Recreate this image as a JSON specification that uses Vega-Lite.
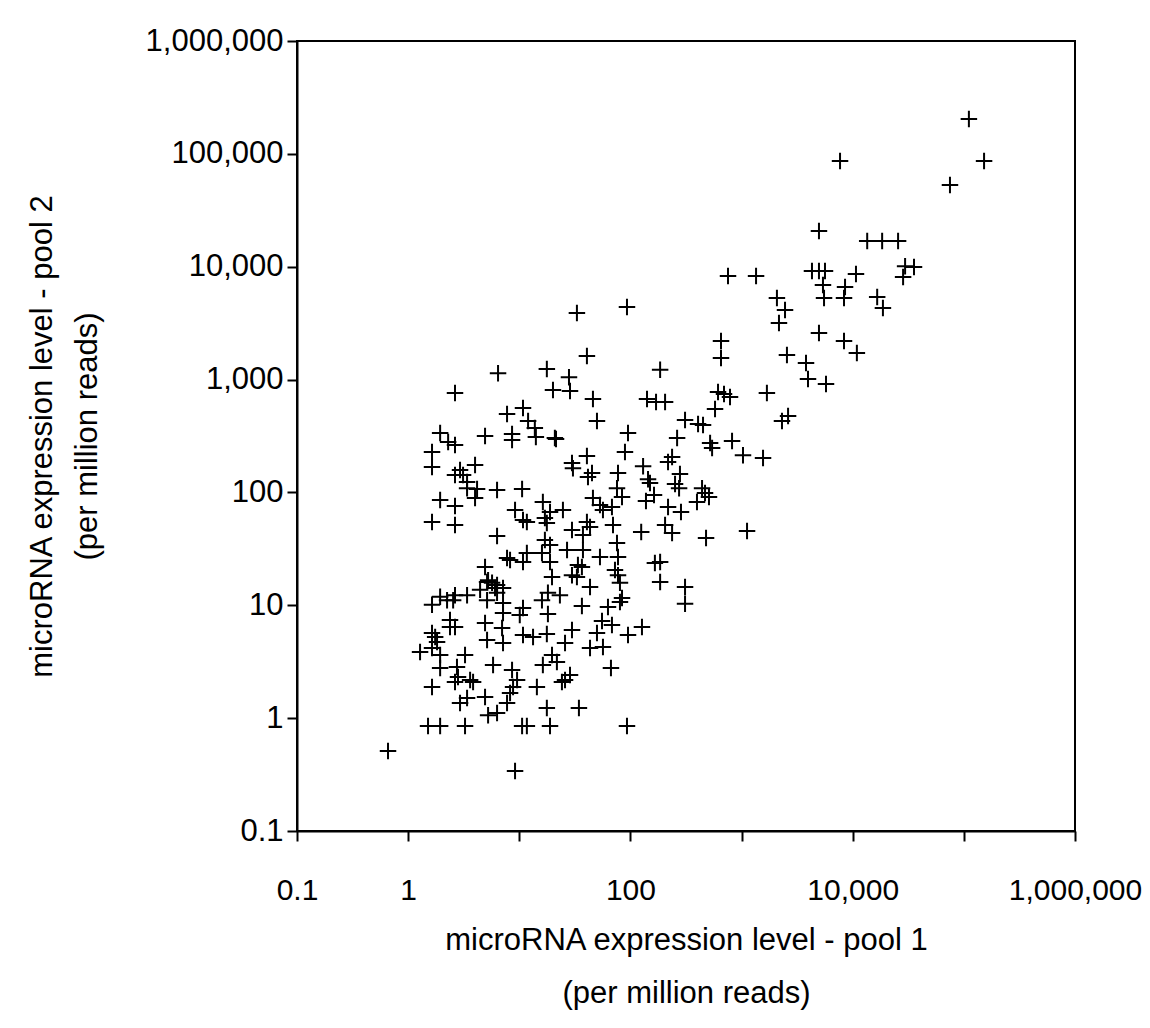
{
"$schema":"https://vega.github.io/schema/vega-lite/v6.json",
"width":778,"height":790,
"autosize":{"type":"none"},
"padding":{"left":297,"top":41,"right":75,"bottom":197},
"config":{"view":{"stroke":"black","strokeWidth":2},"font":"Liberation Sans"},
"data":{"values":[
{"pool1":111000,"pool2":204000},{"pool1":152000,"pool2":86400},{"pool1":75000,"pool2":53000},{"pool1":7690,"pool2":86400},
{"pool1":13500,"pool2":16900},{"pool1":18400,"pool2":16900},{"pool1":25600,"pool2":16900},{"pool1":29600,"pool2":10100},
{"pool1":35600,"pool2":9950},{"pool1":28400,"pool2":8110},{"pool1":10700,"pool2":8620},{"pool1":4970,"pool2":20700},
{"pool1":755,"pool2":8280},{"pool1":1350,"pool2":8280},{"pool1":4300,"pool2":9160},{"pool1":4970,"pool2":9160},
{"pool1":5630,"pool2":9160},{"pool1":5400,"pool2":6890},{"pool1":8530,"pool2":6610},{"pool1":2080,"pool2":5280},
{"pool1":5520,"pool2":5280},{"pool1":8350,"pool2":5280},{"pool1":16600,"pool2":5390},{"pool1":18700,"pool2":4310},
{"pool1":2460,"pool2":4140},{"pool1":2170,"pool2":3170},{"pool1":4970,"pool2":2590},{"pool1":8350,"pool2":2200},
{"pool1":10900,"pool2":1720},{"pool1":2560,"pool2":1650},{"pool1":3800,"pool2":1400},{"pool1":3960,"pool2":1010},
{"pool1":5750,"pool2":913},{"pool1":1690,"pool2":760},{"pool1":653,"pool2":2200},{"pool1":653,"pool2":1550},
{"pool1":695,"pool2":745},{"pool1":787,"pool2":700},{"pool1":614,"pool2":776},{"pool1":2310,"pool2":429},
{"pool1":2620,"pool2":475},{"pool1":821,"pool2":285},{"pool1":33.0,"pool2":3890},{"pool1":93.1,"pool2":4400},
{"pool1":40.6,"pool2":1620},{"pool1":6.44,"pool2":1140},{"pool1":17.7,"pool2":1240},{"pool1":28.0,"pool2":1050},
{"pool1":20.1,"pool2":808},{"pool1":28.6,"pool2":791},{"pool1":185,"pool2":1220},{"pool1":46.0,"pool2":672},
{"pool1":141,"pool2":672},{"pool1":170,"pool2":632},{"pool1":205,"pool2":632},{"pool1":577,"pool2":548},
{"pool1":10.8,"pool2":560},{"pool1":7.76,"pool2":495},{"pool1":12.0,"pool2":429},{"pool1":13.8,"pool2":372},
{"pool1":14.1,"pool2":310},{"pool1":8.61,"pool2":329},{"pool1":8.61,"pool2":291},{"pool1":50.0,"pool2":429},
{"pool1":310,"pool2":438},{"pool1":406,"pool2":404},{"pool1":450,"pool2":396},{"pool1":4.92,"pool2":316},
{"pool1":20.9,"pool2":303},{"pool1":95.1,"pool2":336},{"pool1":263,"pool2":303},{"pool1":521,"pool2":274},
{"pool1":543,"pool2":247},{"pool1":237,"pool2":206},{"pool1":218,"pool2":186},{"pool1":1030,"pool2":214},
{"pool1":1560,"pool2":202},{"pool1":130,"pool2":171},{"pool1":279,"pool2":146},{"pool1":144,"pool2":131},
{"pool1":150,"pool2":121},{"pool1":252,"pool2":119},{"pool1":274,"pool2":109},{"pool1":441,"pool2":109},
{"pool1":469,"pool2":98.9},{"pool1":509,"pool2":91.2},{"pool1":397,"pool2":82.3},{"pool1":163,"pool2":94.8},
{"pool1":138,"pool2":84.0},{"pool1":218,"pool2":74.3},{"pool1":285,"pool2":67.1},{"pool1":205,"pool2":51.4},
{"pool1":237,"pool2":43.7},{"pool1":125,"pool2":44.6},{"pool1":1120,"pool2":45.5},{"pool1":479,"pool2":39.5},
{"pool1":21.4,"pool2":297},{"pool1":89.3,"pool2":228},{"pool1":40.6,"pool2":210},{"pool1":29.8,"pool2":182},
{"pool1":30.4,"pool2":164},{"pool1":45.1,"pool2":149},{"pool1":41.5,"pool2":137},{"pool1":77.3,"pool2":149},
{"pool1":75.7,"pool2":109},{"pool1":46.0,"pool2":89.3},{"pool1":84.0,"pool2":91.2},{"pool1":16.3,"pool2":82.3},
{"pool1":53.2,"pool2":77.4},{"pool1":56.6,"pool2":69.8},{"pool1":68.2,"pool2":74.3},{"pool1":24.7,"pool2":69.8},
{"pool1":18.9,"pool2":67.1},{"pool1":17.0,"pool2":59.3},{"pool1":17.7,"pool2":53.6},{"pool1":40.6,"pool2":54.7},
{"pool1":43.3,"pool2":49.4},{"pool1":29.8,"pool2":46.5},{"pool1":69.7,"pool2":51.4},{"pool1":37.4,"pool2":42.0},
{"pool1":17.0,"pool2":37.9},{"pool1":18.9,"pool2":34.2},{"pool1":75.7,"pool2":35.6},{"pool1":26.9,"pool2":30.9},
{"pool1":37.4,"pool2":30.9},{"pool1":53.2,"pool2":26.8},{"pool1":77.3,"pool2":26.8},{"pool1":18.9,"pool2":24.2},
{"pool1":33.7,"pool2":22.8},{"pool1":36.6,"pool2":21.8},{"pool1":166,"pool2":23.7},{"pool1":185,"pool2":24.2},
{"pool1":29.8,"pool2":18.5},{"pool1":33.0,"pool2":17.8},{"pool1":72.6,"pool2":20.5},{"pool1":77.3,"pool2":18.5},
{"pool1":19.7,"pool2":17.8},{"pool1":80.5,"pool2":15.8},{"pool1":185,"pool2":16.1},{"pool1":43.3,"pool2":14.5},
{"pool1":310,"pool2":14.5},{"pool1":23.2,"pool2":12.3},{"pool1":16.0,"pool2":11.1},{"pool1":84.0,"pool2":11.6},
{"pool1":310,"pool2":10.3},{"pool1":36.6,"pool2":9.85},{"pool1":62.8,"pool2":9.64},{"pool1":18.1,"pool2":8.36},
{"pool1":55.5,"pool2":7.25},{"pool1":68.2,"pool2":6.68},{"pool1":127,"pool2":6.41},{"pool1":29.8,"pool2":6.04},
{"pool1":80.5,"pool2":10.7},{"pool1":95.1,"pool2":5.45},{"pool1":17.7,"pool2":5.56},{"pool1":50.0,"pool2":5.68},
{"pool1":25.8,"pool2":4.63},{"pool1":43.3,"pool2":4.18},{"pool1":56.6,"pool2":4.27},{"pool1":19.7,"pool2":3.62},
{"pool1":21.8,"pool2":3.14},{"pool1":16.3,"pool2":2.95},{"pool1":66.8,"pool2":2.78},{"pool1":28.6,"pool2":2.41},
{"pool1":25.8,"pool2":2.18},{"pool1":24.2,"pool2":2.09},{"pool1":17.7,"pool2":1.23},{"pool1":34.4,"pool2":1.23},
{"pool1":18.9,"pool2":0.851},{"pool1":93.1,"pool2":0.851},{"pool1":1.94,"pool2":336},{"pool1":2.29,"pool2":280},
{"pool1":2.64,"pool2":263},{"pool1":1.64,"pool2":228},{"pool1":1.64,"pool2":168},{"pool1":4.00,"pool2":175},
{"pool1":2.93,"pool2":158},{"pool1":2.64,"pool2":143},{"pool1":3.12,"pool2":143},{"pool1":3.39,"pool2":124},
{"pool1":3.39,"pool2":109},{"pool1":4.17,"pool2":107},{"pool1":4.00,"pool2":89.3},{"pool1":6.31,"pool2":105},
{"pool1":10.6,"pool2":107},{"pool1":1.94,"pool2":85.7},{"pool1":2.64,"pool2":75.8},{"pool1":2.64,"pool2":51.4},
{"pool1":1.64,"pool2":54.7},{"pool1":9.16,"pool2":69.8},{"pool1":10.8,"pool2":57.0},{"pool1":11.7,"pool2":54.7},
{"pool1":6.31,"pool2":41.1},{"pool1":7.76,"pool2":26.2},{"pool1":8.26,"pool2":25.2},{"pool1":11.7,"pool2":29.1},
{"pool1":10.8,"pool2":24.2},{"pool1":16.0,"pool2":29.1},{"pool1":4.92,"pool2":21.8},{"pool1":5.24,"pool2":16.7},
{"pool1":6.31,"pool2":15.1},{"pool1":2.64,"pool2":760},{"pool1":5.13,"pool2":16.1},{"pool1":5.69,"pool2":15.8},
{"pool1":4.44,"pool2":13.7},{"pool1":6.05,"pool2":14.2},{"pool1":7.14,"pool2":14.2},{"pool1":3.39,"pool2":12.3},
{"pool1":1.64,"pool2":10.1},{"pool1":1.94,"pool2":11.9},{"pool1":2.24,"pool2":11.1},{"pool1":2.54,"pool2":11.1},
{"pool1":2.64,"pool2":12.3},{"pool1":5.13,"pool2":11.1},{"pool1":6.31,"pool2":12.9},{"pool1":7.14,"pool2":10.5},
{"pool1":10.8,"pool2":9.45},{"pool1":10.1,"pool2":8.19},{"pool1":18.1,"pool2":12.9},{"pool1":7.14,"pool2":8.53},
{"pool1":2.38,"pool2":7.40},{"pool1":2.38,"pool2":6.41},{"pool1":2.64,"pool2":6.41},{"pool1":4.92,"pool2":6.96},
{"pool1":7.00,"pool2":6.28},{"pool1":1.64,"pool2":5.68},{"pool1":1.75,"pool2":5.23},{"pool1":10.8,"pool2":5.45},
{"pool1":13.3,"pool2":5.23},{"pool1":1.82,"pool2":4.72},{"pool1":1.64,"pool2":4.18},{"pool1":5.13,"pool2":4.92},
{"pool1":7.14,"pool2":4.63},{"pool1":1.28,"pool2":3.85},{"pool1":1.94,"pool2":3.62},{"pool1":3.25,"pool2":3.62},
{"pool1":5.81,"pool2":2.95},{"pool1":1.94,"pool2":2.78},{"pool1":2.75,"pool2":2.84},{"pool1":8.61,"pool2":2.67},
{"pool1":2.81,"pool2":2.31},{"pool1":2.64,"pool2":2.09},{"pool1":3.61,"pool2":2.18},{"pool1":3.84,"pool2":2.09},
{"pool1":9.55,"pool2":2.18},{"pool1":8.79,"pool2":1.89},{"pool1":14.4,"pool2":1.89},{"pool1":1.64,"pool2":1.89},
{"pool1":3.39,"pool2":1.51},{"pool1":4.92,"pool2":1.54},{"pool1":8.26,"pool2":1.67},{"pool1":2.93,"pool2":1.36},
{"pool1":7.76,"pool2":1.36},{"pool1":5.24,"pool2":1.06},{"pool1":6.31,"pool2":1.11},{"pool1":1.51,"pool2":0.851},
{"pool1":1.94,"pool2":0.851},{"pool1":3.25,"pool2":0.851},{"pool1":10.6,"pool2":0.851},{"pool1":11.7,"pool2":0.851},
{"pool1":0.659,"pool2":0.512},{"pool1":9.16,"pool2":0.340}
]},
"mark":{"type":"point","shape":"M-1,0L1,0M0,-1L0,1","size":272,"filled":false,"stroke":"black","strokeWidth":2,"opacity":1},
"encoding":{
"x":{"field":"pool1","type":"quantitative",
"scale":{"type":"log","domain":[0.1,1000000],"nice":false},
"axis":{"values":[0.1,1,10,100,1000,10000,100000,1000000],
"labelExpr":"indexof([0.1,1,100,10000,1000000], datum.value) >= 0 ? format(datum.value, ',') : ''",
"grid":false,"domainColor":"black","domainWidth":2,"tickColor":"black","tickWidth":2,"tickSize":10,
"labelFontSize":30,"labelColor":"black","labelFont":"Liberation Sans","labelPadding":34,"labelFlush":false,"labelOverlap":false,
"title":["microRNA expression level - pool 1","(per million reads)"],
"titleFontSize":31,"titleFontWeight":"normal","titleColor":"black","titleFont":"Liberation Sans","titleLineHeight":53,"titlePadding":20}},
"y":{"field":"pool2","type":"quantitative",
"scale":{"type":"log","domain":[0.1,1000000],"nice":false},
"axis":{"values":[0.1,1,10,100,1000,10000,100000,1000000],
"labelExpr":"format(datum.value, ',')",
"grid":false,"domainColor":"black","domainWidth":2,"tickColor":"black","tickWidth":2,"tickSize":10,
"labelFontSize":31,"labelColor":"black","labelFont":"Liberation Sans","labelPadding":4,"labelOverlap":false,
"title":["microRNA expression level - pool 2","(per million reads)"],
"titleFontSize":31,"titleFontWeight":"normal","titleColor":"black","titleFont":"Liberation Sans","titleLineHeight":45,"titlePadding":42}}
}
}
